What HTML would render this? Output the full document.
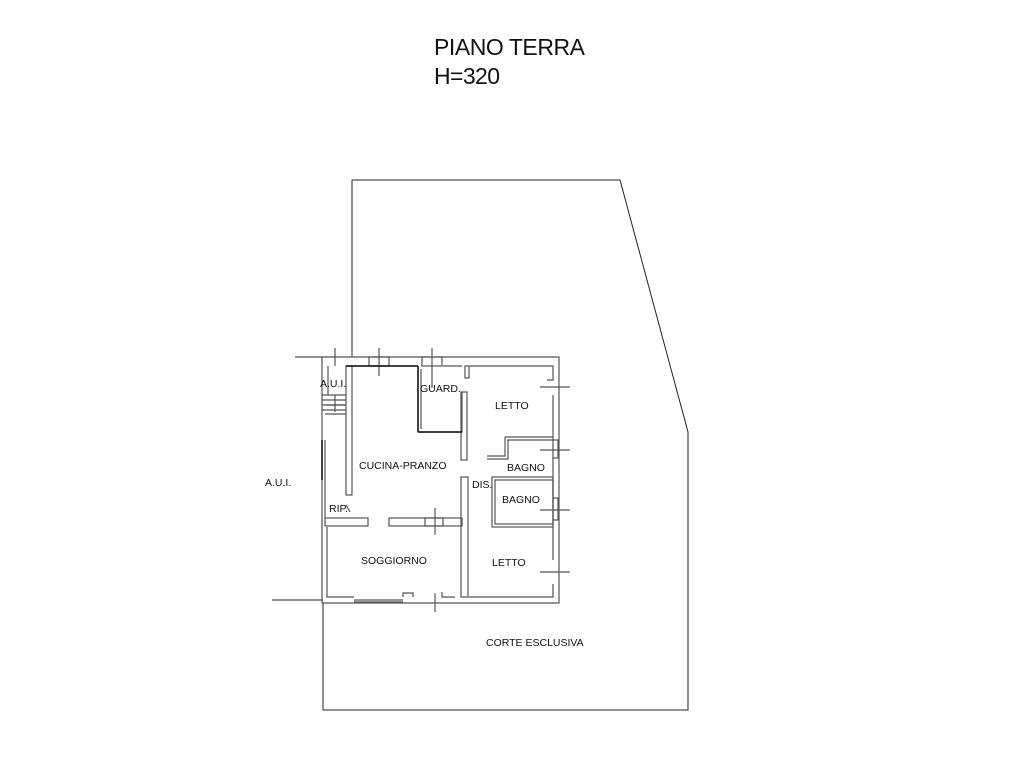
<!DOCTYPE html>
<html><head><meta charset="utf-8"><style>
html,body{margin:0;padding:0;background:#fff;width:1024px;height:768px;overflow:hidden}
svg{display:block}
text{font-family:"Liberation Sans",Arial,sans-serif;fill:#111}
</style></head><body>
<svg width="1024" height="768" viewBox="0 0 1024 768" xmlns="http://www.w3.org/2000/svg">
<text x="434" y="55" font-size="23" textLength="151">PIANO TERRA</text>
<text x="434" y="84" font-size="23" textLength="66">H=320</text>

<g fill="none" stroke="#222" stroke-width="1">
<polyline points="352,357 352,180 620,180 688,432 688,710 323,710 323,603"/>
<line x1="295" y1="357" x2="352" y2="357"/>
<line x1="272" y1="600" x2="323" y2="600"/>
</g>

<g fill="none" stroke="#555" stroke-width="1.2">
<polyline points="322,357 559,357 559,603 322,603 322,357"/>
<polyline points="346,366 418,366"/>
<polyline points="443,366 462,366"/>
<polyline points="469,366 553,366 553,380 547,380"/>
<polyline points="553,395 553,440"/>
<polyline points="553,458 553,498"/>
<polyline points="553,520 553,560"/>
<polyline points="553,584 553,597 469,597"/>
<polyline points="455,597 442,597 442,592"/>
<polyline points="403,597 403,593 413,593 413,597"/>
<polyline points="354,597 327,597 327,527"/>
<polyline points="325,518 325,440"/>
<polyline points="328,366 328,395"/>
<rect x="369" y="357" width="20" height="9"/>
<rect x="422" y="357" width="20" height="9"/>
<line x1="379" y1="348" x2="379" y2="376"/>
<line x1="432" y1="348" x2="432" y2="388"/>
<line x1="540" y1="387" x2="570" y2="387"/>
<line x1="540" y1="450" x2="570" y2="450"/>
<line x1="540" y1="510" x2="570" y2="510"/>
<line x1="540" y1="572" x2="570" y2="572"/>
<rect x="553" y="440" width="5" height="18"/>
<rect x="553" y="498" width="5" height="22"/>
<line x1="354" y1="600" x2="403" y2="600"/>
<line x1="354" y1="602" x2="403" y2="602"/>
<line x1="435" y1="593" x2="435" y2="612"/>
<rect x="346" y="366" width="6" height="129"/>
<polyline points="418,366 418,432 462,432 462,392"/>
<polyline points="421,369 421,429"/>
<rect x="461" y="392" width="6" height="68"/>
<rect x="465" y="366" width="4" height="12"/>
<rect x="461" y="477" width="7" height="120"/>
<rect x="325" y="518" width="43" height="8"/>
<rect x="389" y="518" width="73" height="8"/>
<rect x="425" y="518" width="18" height="8"/>
<line x1="435" y1="508" x2="435" y2="535"/>
<line x1="325" y1="405" x2="346" y2="405"/>
<line x1="325" y1="414" x2="346" y2="414"/>
<line x1="346" y1="505" x2="350" y2="512"/>
<polyline points="505,437 553,437"/>
<polyline points="507,440 553,440"/>
<polyline points="505,437 505,456 487,456"/>
<polyline points="508,440 508,459 487,459"/>
<rect x="492" y="477" width="61" height="50"/>
<rect x="495" y="480" width="58" height="44"/>
<line x1="322" y1="395" x2="346" y2="395"/>
<line x1="322" y1="400" x2="346" y2="400"/>
<line x1="322" y1="405" x2="346" y2="405"/>
<line x1="322" y1="410" x2="346" y2="410"/>
<line x1="335" y1="395" x2="335" y2="412"/>
<line x1="335" y1="348" x2="335" y2="366"/>
</g>
<g stroke="#111" stroke-width="1.5">
<line x1="322" y1="440" x2="322" y2="480"/>
<line x1="346" y1="366" x2="418" y2="366"/>
<line x1="418" y1="366" x2="418" y2="432"/>
<line x1="418" y1="432" x2="462" y2="432"/>
</g>

<g font-size="10.5">
<text x="320" y="387">A.U.I.</text>
<text x="420" y="392">GUARD.</text>
<text x="495" y="409">LETTO</text>
<text x="359" y="469">CUCINA-PRANZO</text>
<text x="507" y="471">BAGNO</text>
<text x="472" y="488">DIS.</text>
<text x="502" y="503">BAGNO</text>
<text x="265" y="486">A.U.I.</text>
<text x="329" y="512">RIP.</text>
<text x="361" y="564">SOGGIORNO</text>
<text x="492" y="566">LETTO</text>
<text x="486" y="646">CORTE ESCLUSIVA</text>
</g>
</svg>
</body></html>
